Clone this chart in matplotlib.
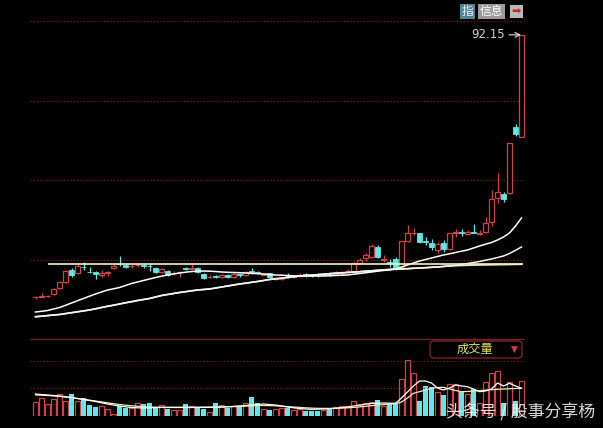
import numpy as np
import matplotlib.pyplot as plt
from matplotlib.patches import Rectangle, FancyBboxPatch

plt.rcParams['font.family'] = ['DejaVu Sans']
cjk = ['Noto Sans CJK SC', 'DejaVu Sans']

# 日K线数据
opens = [13.4, 13.6, 13.8, 14.3, 16.1, 18.1, 21.6, 20.8, 22.6, 21.1,
         20.9, 20.0, 20.8, 22.2, 23.5, 23.2, 22.8, 23.1, 23.0, 22.9,
         22.1, 21.1, 21.3, 20.7, 20.9, 22.1, 22.0, 22.1, 20.3, 19.5,
         19.7, 19.6, 20.1, 19.4, 20.3, 20.1, 21.2, 20.9, 20.2, 20.6,
         19.0, 18.8, 19.9, 19.6, 20.1, 20.3, 19.9, 20.3, 20.2, 20.5,
         20.4, 20.7, 21.2, 21.3, 23.6, 25.1, 25.4, 28.4, 24.7, 23.9,
         24.8, 22.6, 30.4, 32.7, 32.6, 30.2, 29.8, 27.6, 29.6, 27.8,
         32.8, 32.9, 32.4, 32.9, 32.5, 33.1, 36.1, 43.1, 44.4, 44.8,
         64.6, 61.6]
highs = [13.8, 14.8, 14.2, 16.2, 18.3, 21.6, 22.2, 23.7, 24.1, 22.6,
         21.3, 21.6, 21.4, 23.4, 25.8, 23.4, 23.4, 23.8, 23.4, 23.6,
         22.5, 22.2, 21.6, 21.3, 21.4, 22.5, 23.4, 22.6, 20.7, 20.1,
         20.1, 20.4, 20.4, 20.6, 20.7, 21.2, 22.1, 21.3, 20.8, 20.7,
         19.5, 19.3, 20.6, 20.2, 20.7, 20.6, 20.2, 20.6, 20.6, 21.0,
         21.3, 21.3, 21.8, 24.0, 25.2, 26.8, 29.4, 29.1, 26.1, 24.8,
         25.6, 30.3, 35.1, 34.1, 32.7, 31.4, 30.8, 30.1, 30.6, 32.7,
         33.8, 33.8, 33.6, 35.4, 33.6, 37.6, 45.6, 50.7, 45.1, 59.7,
         65.4, 92.15]
lows = [12.9, 13.4, 13.5, 14.1, 15.9, 17.8, 19.5, 20.5, 21.6, 20.6,
        18.9, 19.5, 19.8, 21.9, 22.8, 22.2, 22.2, 22.5, 22.2, 21.4,
        20.7, 20.7, 19.8, 20.1, 19.6, 21.6, 21.8, 20.6, 18.9, 19.2,
        19.2, 19.2, 19.2, 19.2, 19.5, 19.8, 20.3, 20.4, 20.1, 19.2,
        18.6, 18.6, 19.1, 19.2, 19.6, 19.6, 19.4, 19.6, 19.8, 19.8,
        20.1, 20.2, 20.6, 21.0, 23.4, 24.4, 25.2, 25.1, 24.1, 22.6,
        21.6, 22.5, 30.1, 32.1, 29.7, 29.1, 27.6, 26.8, 27.1, 27.6,
        31.6, 31.8, 32.1, 32.6, 32.0, 32.6, 34.8, 41.8, 42.1, 44.3,
        61.8, 61.5]
closes = [13.5, 13.9, 13.9, 15.8, 17.9, 21.4, 20.1, 22.8, 22.5, 21.0,
          20.3, 20.8, 20.9, 22.9, 23.4, 22.4, 22.9, 23.2, 22.9, 22.8,
          20.9, 21.9, 20.1, 20.8, 21.0, 22.0, 22.2, 20.9, 19.1, 19.6,
          19.6, 20.2, 19.5, 20.4, 20.2, 20.9, 21.1, 20.8, 20.5, 19.4,
          19.1, 18.9, 19.8, 19.9, 20.2, 20.2, 19.8, 20.2, 20.3, 20.4,
          21.0, 21.0, 21.3, 23.6, 24.6, 26.1, 28.8, 25.4, 24.8, 23.8,
          22.4, 30.3, 32.6, 32.8, 29.9, 30.1, 28.6, 29.3, 27.8, 32.6,
          32.9, 32.8, 33.1, 32.8, 32.6, 35.6, 42.8, 45.1, 42.8, 59.6,
          62.4, 92.15]

# 均线
ma_fast = [9.0, 9.21, 9.45, 9.9, 10.35, 11.01, 11.7, 12.39, 13.05, 13.74,
           14.4, 15.0, 15.6, 15.96, 16.35, 16.95, 17.55, 18.0, 18.45, 18.9,
           19.35, 19.74, 20.1, 20.4, 20.7, 20.94, 21.15, 21.24, 21.3, 21.24,
           21.15, 21.0, 20.91, 20.85, 20.79, 20.7, 20.61, 20.52, 20.4, 20.25,
           20.1, 20.04, 19.95, 19.86, 19.8, 19.8, 19.8, 19.8, 19.8, 19.86,
           19.95, 20.04, 20.1, 20.34, 20.55, 20.76, 21.0, 21.24, 21.45, 21.66,
           21.9, 22.5, 23.1, 23.7, 24.3, 24.75, 25.2, 25.65, 26.1, 26.46,
           26.85, 27.24, 27.6, 28.2, 28.8, 29.34, 29.85, 30.6, 31.5, 32.7,
           34.8, 37.2]
ma_mid = [7.59, 7.74, 7.92, 8.1, 8.25, 8.52, 8.79, 9.06, 9.33, 9.6,
          9.96, 10.35, 10.71, 11.04, 11.4, 11.76, 12.09, 12.45, 12.75, 13.05,
          13.5, 13.95, 14.25, 14.55, 14.85, 15.09, 15.36, 15.6, 15.75, 15.9,
          16.2, 16.5, 16.8, 17.1, 17.4, 17.64, 17.91, 18.15, 18.45, 18.75,
          18.96, 19.14, 19.35, 19.56, 19.8, 19.92, 20.07, 20.19, 20.34, 20.49,
          20.61, 20.73, 20.85, 20.97, 21.09, 21.24, 21.36, 21.51, 21.63, 21.75,
          21.84, 21.9, 21.99, 22.11, 22.2, 22.29, 22.41, 22.5, 22.65, 22.8,
          23.04, 23.31, 23.55, 23.85, 24.15, 24.54, 24.9, 25.35, 25.8, 26.55,
          27.51, 28.5]
ma_slow = [7.59, 7.74, 7.92, 8.1, 8.25, 8.52, 8.79, 9.06, 9.33, 9.6,
           9.96, 10.35, 10.71, 11.04, 11.4, 11.76, 12.09, 12.45, 12.75, 13.05,
           13.5, 13.95, 14.25, 14.55, 14.85, 15.09, 15.36, 15.6, 15.75, 15.9,
           16.2, 16.5, 16.8, 17.1, 17.4, 17.64, 17.91, 18.15, 18.45, 18.75,
           18.96, 19.14, 19.35, 19.56, 19.8, 19.92, 20.07, 20.19, 20.34, 20.49,
           20.61, 20.73, 20.85, 20.97, 21.09, 21.24, 21.36, 21.51, 21.63, 21.75,
           21.84, 21.9, 21.99, 22.11, 22.2, 22.29, 22.41, 22.5, 22.68, 22.8,
           22.89, 22.95, 23.01, 23.07, 23.1, 23.13, 23.16, 23.19, 23.22, 23.25,
           23.28, 23.31]
level_price = 23.3          # 画线：横线
level_from, level_to = 3, 82
grid_prices = [24.6, 48.6, 72.3, 96.3]
top_price = 92.15

# 成交量
volumes = [14.3, 17.7, 12, 16.7, 21.7, 15.3, 22, 15.3, 17.7, 11,
           9.3, 10, 6.7, 2, 10, 7.7, 7.7, 12.7, 12, 12.7,
           8.7, 11, 6.7, 6, 6, 12, 10, 9.3, 7, 4.3,
           12.7, 11, 8.3, 10, 9.3, 12.7, 18.7, 12.7, 6.7, 6,
           6.7, 8, 8, 6, 7, 5, 5, 5.3, 6, 6.7,
           8.7, 10, 10, 15.3, 11, 13.3, 14.3, 16, 10, 12,
           12.7, 36.7, 56, 43.3, 15.3, 30, 28.7, 24.3, 21, 32,
           32, 24.3, 22, 26.7, 13.3, 34.3, 42.7, 45.3, 13, 34,
           15, 35]
vol_ma_fast = [22, 21.5, 21, 20.5, 20, 19.3, 18.5, 17.5, 16.5, 15.5,
               14.5, 13.2, 12, 11, 10, 9.2, 8.5, 8.2, 8, 8.2,
               8.5, 8.6, 8.7, 8.7, 8.7, 8.7, 8.7, 8.7, 8.7, 8.7,
               8.8, 9, 9.3, 9.6, 10, 10.5, 11, 11.5, 12, 11.5,
               11, 10, 9, 8.2, 7.5, 7, 6.7, 6.8, 7, 7.3,
               7.7, 8.3, 9, 10, 11, 11.8, 12.5, 12.8, 13, 12.8,
               12.7, 18, 24, 30, 35, 35, 33, 28, 26, 28,
               31, 30, 29.3, 27, 24.3, 25, 27, 33, 30, 32.7,
               30, 27.7]
vol_ma_slow = [21, 20.8, 20.5, 20.1, 19.6, 19, 18.3, 17.5, 16.7, 15.8,
               15, 14.1, 13.2, 12.3, 11.5, 10.8, 10.2, 9.7, 9.3, 9,
               8.8, 8.6, 8.5, 8.5, 8.5, 8.5, 8.5, 8.6, 8.7, 8.8,
               8.9, 9, 9.2, 9.4, 9.6, 9.9, 10.2, 10.4, 10.5, 10.4,
               10.2, 9.8, 9.4, 9, 8.6, 8.2, 7.9, 7.7, 7.6, 7.6,
               7.7, 7.9, 8.2, 8.6, 9.1, 9.7, 10.3, 10.9, 11.4, 11.9,
               12.3, 14, 18, 22.7, 24.3, 26, 27.7, 28.5, 28.7, 27,
               25.5, 24.3, 24.5, 25, 25.3, 25.8, 26.3, 26.7, 27, 27.3,
               27.5, 27.7]
vol_grid = [27.7, 55.3]
vol_top = 77

RED = '#d04248'
CYAN = '#5ee8e8'
GRID = '#8a1f1f'

W, H = 603, 428
n = len(closes)
idx = np.arange(1, n + 1)
o = np.array(opens); c = np.array(closes)
hi = np.array(highs); lo = np.array(lows)
up = c > o

fig = plt.figure(figsize=(W / 100, H / 100), dpi=100, facecolor='black')
xl = ((0 - 29.5) / 6, (W - 29.5) / 6)

# 主图
ax = fig.add_axes([0, (H - 339) / H, 1, (339 - 21) / H])
ax.set_facecolor('black')
ax.set_xlim(*xl)
ax.set_ylim(0.9, 96.3)
ax.axis('off')

ax.hlines(grid_prices, 0.1, n + 0.45, colors=GRID, linestyles=(0, (1, 2)),
          lw=0.8, clip_on=False)

bw = 0.68
for i in range(n):
    x = idx[i]
    if up[i]:
        ax.vlines(x, lo[i], o[i], colors=RED, lw=0.9)
        ax.vlines(x, c[i], hi[i], colors=RED, lw=0.9)
        ax.add_patch(Rectangle((x - bw / 2, o[i]), bw, c[i] - o[i],
                               facecolor='black', edgecolor=RED, lw=0.9, zorder=3))
    else:
        ax.vlines(x, lo[i], hi[i], colors=CYAN, lw=0.9)
        ax.add_patch(Rectangle((x - bw / 2, c[i]), bw, max(o[i] - c[i], 0.15),
                               facecolor=CYAN, edgecolor=CYAN, lw=0.6, zorder=3))

ax.plot(idx, ma_slow, color='#f0f0b0', lw=1.2, zorder=4)
ax.plot(idx, ma_mid, color='#f4f4f4', lw=1.1, zorder=4)
ax.plot(idx, ma_fast, color='white', lw=1.1, zorder=4)
ax.hlines(level_price, level_from, level_to + 0.3, colors='#f2f2c8', lw=1.2, zorder=4)

ax.annotate(f'{top_price:.2f}', xy=(n - 0.1, top_price), xytext=(-16, 0),
            textcoords='offset pixels', ha='right', va='center',
            color='#d0d0d0', fontsize=8.5,
            arrowprops=dict(arrowstyle='->', color='#e0e0e0', lw=0.8,
                            shrinkA=1, shrinkB=0))

# 副图：成交量
axv = fig.add_axes([0, (H - 416) / H, 1, 77 / H])
axv.set_facecolor('black')
axv.set_xlim(*xl)
axv.set_ylim(0, vol_top)
axv.axis('off')
axv.hlines(vol_grid, 0.1, n + 0.45, colors=GRID, linestyles=(0, (1, 2)), lw=0.8)
axv.hlines(vol_top, 0.1, n + 0.45, colors='#7a2020', lw=1.0, clip_on=False)

vol = np.array(volumes)
axv.bar(idx[up], vol[up], width=bw, facecolor='black', edgecolor=RED, lw=0.9)
axv.bar(idx[~up], vol[~up], width=bw, color=CYAN, lw=0)
axv.plot(idx, vol_ma_slow, color='#f0f0b0', lw=0.9)
axv.plot(idx, vol_ma_fast, color='white', lw=0.9)

# 成交量标签框
box = FancyBboxPatch((430 / W, 1 - 358 / H), 92 / W, 17 / H,
                     boxstyle='round,pad=0,rounding_size=0.008',
                     transform=fig.transFigure, facecolor='black',
                     edgecolor='#7a2424', lw=1.0)
fig.patches.append(box)
fig.text(475 / W, 1 - 349.5 / H, '成交量', color='#e8e060', fontsize=8.8,
         family=cjk, ha='center', va='center')
fig.text(514 / W, 1 - 349.5 / H, '▼', color='#e0305a', fontsize=6.5,
         ha='center', va='center')

# 右上角按钮
fig.text(467.5 / W, 1 - 11.5 / H, '指', color='#e8f4ff', fontsize=8.5, family=cjk,
         ha='center', va='center',
         bbox=dict(boxstyle='square,pad=0.12', facecolor='#4f8596', edgecolor='none'))
fig.text(491.5 / W, 1 - 11.5 / H, '信息', color='white', fontsize=8.5, family=cjk,
         ha='center', va='center',
         bbox=dict(boxstyle='square,pad=0.12', facecolor='#9a9a9a', edgecolor='none'))
fig.text(516.5 / W, 1 - 11.5 / H, '➡', color='#d02020', fontsize=8,
         ha='center', va='center',
         bbox=dict(boxstyle='square,pad=0.15', facecolor='#b8b8b8', edgecolor='none'))

# 水印
fig.text(521 / W, 1 - 412 / H, '头条号 / 股事分享杨', color='white', alpha=0.85,
         fontsize=12.2, family=cjk, ha='center', va='center')

fig.savefig('out.png', dpi=100, facecolor='black')
